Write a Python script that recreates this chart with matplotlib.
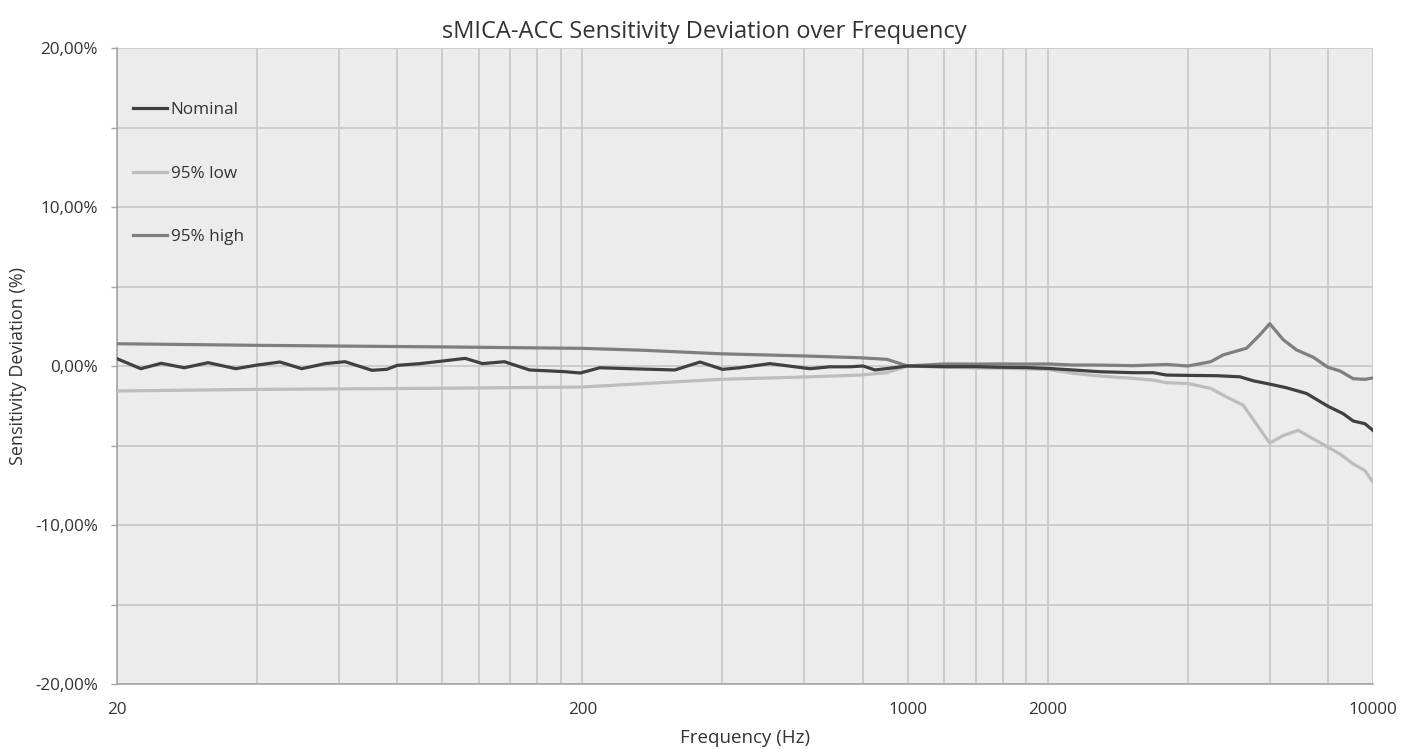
import numpy as np
import matplotlib
matplotlib.use("Agg")
import matplotlib.pyplot as plt
from matplotlib.ticker import FixedLocator, FuncFormatter

plt.rcParams['font.family'] = ['Open Sans', 'DejaVu Sans']

# values (frequency in Hz, deviation in %)
freq_nom = [20, 22.5, 24.9, 27.9, 31.4, 36, 40, 44.8, 49.9, 56, 61.8, 70.6, 76, 80, 89.6,
            100, 112, 122, 136, 154, 170, 184, 198, 218, 253, 316, 358, 400, 436, 506,
            617, 681, 752, 802, 851, 939, 1000, 1200, 1400, 1600, 1800, 2000, 2268, 2590,
            3054, 3370, 3601, 4000, 4614, 5176, 5528, 6000, 6522, 7200, 8000, 8628, 9070,
            9610, 10000]
dev_nom = [0.46, -0.17, 0.17, -0.11, 0.21, -0.17, 0.06, 0.25, -0.17, 0.15, 0.27, -0.27,
           -0.21, 0.04, 0.15, 0.31, 0.48, 0.15, 0.27, -0.25, -0.31, -0.36, -0.44, -0.11,
           -0.17, -0.25, 0.25, -0.21, -0.11, 0.15, -0.17, -0.05, -0.05, 0.0, -0.25, -0.1,
           0.0, -0.04, -0.04, -0.08, -0.1, -0.15, -0.25, -0.36, -0.42, -0.42, -0.57, -0.59,
           -0.61, -0.68, -0.93, -1.14, -1.37, -1.73, -2.53, -3.0, -3.46, -3.63, -4.05]

freq_low = [20, 40, 100, 200, 270, 395, 601, 790, 902, 1000, 1200, 1400, 1600, 1800, 2000,
            2268, 2590, 3054, 3370, 3601, 4000, 4480, 4840, 5262, 6000, 6415, 6906, 7440,
            8000, 8487, 9070, 9610, 10000]
dev_low = [-1.57, -1.47, -1.40, -1.32, -1.11, -0.84, -0.69, -0.57, -0.42, 0.0, -0.08,
           -0.12, -0.15, -0.18, -0.22, -0.46, -0.63, -0.78, -0.89, -1.05, -1.10, -1.41,
           -1.94, -2.47, -4.85, -4.37, -4.05, -4.58, -5.10, -5.53, -6.16, -6.58, -7.32]

freq_high = [20, 40, 100, 200, 270, 395, 601, 790, 902, 1000, 1200, 1400, 1600, 1800, 2000,
             2268, 2590, 3054, 3601, 4000, 4480, 4767, 5350, 5714, 6000, 6415, 6851, 7440,
             8000, 8487, 9070, 9610, 10000]
dev_high = [1.40, 1.30, 1.20, 1.11, 0.99, 0.77, 0.63, 0.52, 0.42, 0.0, 0.13, 0.12, 0.13,
            0.12, 0.13, 0.06, 0.06, 0.02, 0.10, 0.0, 0.27, 0.70, 1.12, 1.96, 2.66, 1.65,
            1.01, 0.55, -0.08, -0.31, -0.80, -0.84, -0.75]

grid_freqs = [20, 40, 60, 80, 100, 120, 140, 160, 180, 200, 400, 600, 800, 1000, 1200,
              1400, 1600, 1800, 2000, 4000, 6000, 8000, 10000]
labeled_freqs = [20, 200, 1000, 2000, 10000]
y_ticks = [-20, -15, -10, -5, 0, 5, 10, 15, 20]

fig = plt.figure(figsize=(14.01, 7.49), dpi=100)
ax = fig.add_axes([117 / 1401, 1 - 684 / 749, 1256 / 1401, 636 / 749])
ax.set_facecolor('#ececec')

ax.plot(freq_nom, dev_nom, color='#404040', lw=2.3, label='Nominal', zorder=5)
ax.plot(freq_low, dev_low, color='#bdbdbd', lw=2.3, label='95% low', zorder=3)
ax.plot(freq_high, dev_high, color='#7f7f7f', lw=2.3, label='95% high', zorder=4)

ax.set_xscale('log')
ax.set_xlim(20, 10000)
ax.set_ylim(-20, 20)

ax.xaxis.set_major_locator(FixedLocator(grid_freqs))
ax.xaxis.set_minor_locator(FixedLocator([]))
ax.xaxis.set_major_formatter(FuncFormatter(
    lambda v, p: f"{int(round(v))}" if int(round(v)) in labeled_freqs else ""))
ax.yaxis.set_major_locator(FixedLocator(y_ticks))
ax.yaxis.set_major_formatter(FuncFormatter(
    lambda v, p: (f"{v:.2f}%".replace('.', ',')) if round(v) % 10 == 0 else ""))

ax.tick_params(axis='x', length=0, pad=13, labelsize=12.3, colors='#333333')
ax.tick_params(axis='y', length=4.3, width=1, color='#a6a6a6', pad=9.4,
               labelsize=12.3, labelcolor='#333333')

ax.grid(True, color='#c4c4c4', linewidth=1.1)
ax.set_axisbelow(True)
for s in ['top', 'right']:
    ax.spines[s].set_visible(False)
for s in ['left', 'bottom']:
    ax.spines[s].set_color('#a0a0a0')
    ax.spines[s].set_linewidth(1.1)

ax.set_xlabel('Frequency (Hz)', fontsize=13.5, color='#333333', labelpad=8)
ax.set_ylabel('Sensitivity Deviation (%)', fontsize=13, color='#333333', labelpad=6)
fig.text(0.503, 0.957, 'sMICA-ACC Sensitivity Deviation over Frequency',
         ha='center', va='center', fontsize=17, color='#333333')

ax.legend(loc='upper left', bbox_to_anchor=(0.0127, 0.9155), frameon=False,
          fontsize=12.3, labelspacing=2.8, handlelength=2.0, handletextpad=0.2,
          borderpad=0, borderaxespad=0, labelcolor='#333333')

fig.savefig('out.png', dpi=100)
